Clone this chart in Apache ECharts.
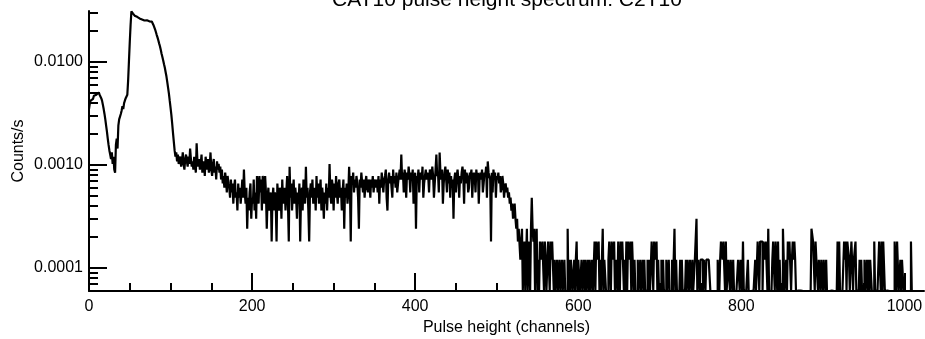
<!DOCTYPE html>
<html><head><meta charset="utf-8">
<script src="https://cdn.jsdelivr.net/npm/echarts@6/dist/echarts.min.js"></script>
<style>html,body{margin:0;padding:0;background:#fff}#c{width:925px;height:339px}</style>
</head><body><div id="c"></div>
<script>
const TITLE = 'CAT10 pulse height spectrum: C2T10';
const X_NAME = 'Pulse height (channels)';
const Y_NAME = 'Counts/s';
const EXPOSURE_S = 16700; // seconds; counts per channel / exposure = counts/s
// counts per channel, channels 0..1023 (32 per row)
const COUNTS = [
58,66,70,72,73,76,78,79,80,82,83,84,82,80,78,74,70,64,58,52,46,40,35,30,26,23,21,19,22,17,20,15,
14,26,30,24,40,46,44,52,56,62,58,66,70,74,72,80,110,170,260,380,516,505,490,478,468,462,456,450,446,440,436,432,
430,424,428,420,426,418,422,416,420,412,416,408,410,404,396,380,362,345,325,305,288,270,252,236,218,200,186,172,158,146,132,120,
106,93,82,70,60,51,42,34,28,23,20,22,18,21,17,19,20,16,18,22,17,15,19,21,18,16,20,17,24,19,16,18,
15,20,17,14,27,18,16,19,15,17,21,14,16,18,13,20,17,15,19,14,16,22,15,13,17,19,14,16,12,18,15,17,
14,16,12,15,11,13,10,14,12,9,13,11,10,8,12,9,11,7,10,12,8,9,6,11,8,10,7,9,12,8,15,9,
7,10,4,8,6,9,11,5,8,7,12,6,9,5,13,10,7,13,9,12,6,13,11,7,13,9,4,8,10,6,7,9,
3,8,10,6,9,7,3,11,8,6,10,9,5,12,7,8,10,6,9,13,7,3,16,8,11,6,9,12,7,10,8,5,
9,7,11,3,8,10,6,12,9,7,16,8,10,6,3,9,11,8,12,7,9,10,6,13,8,11,7,9,12,6,10,8,
5,9,7,11,6,10,8,17,9,7,12,10,6,11,8,13,9,7,11,12,8,10,6,9,12,4,10,8,11,7,9,16,
10,3,13,11,14,9,12,10,13,11,8,4,12,10,14,11,9,12,8,11,13,10,9,12,11,8,12,10,13,9,11,12,
10,12,9,13,7,12,10,14,11,9,12,13,15,8,6,12,14,11,13,10,8,15,11,13,10,14,9,11,13,15,12,21,
12,14,9,15,13,8,14,12,16,13,9,14,12,15,7,11,14,4,13,12,15,9,14,13,12,16,8,11,13,15,12,14,
13,9,15,14,12,16,13,8,11,15,21,13,14,9,22,14,12,15,7,11,14,16,12,9,15,11,14,8,13,10,12,5,
12,14,9,13,15,12,8,13,11,14,16,13,7,15,11,14,13,9,10,14,13,15,8,12,14,13,9,15,12,14,7,12,
14,12,15,9,11,14,13,16,8,18,14,13,12,3,14,9,15,12,14,8,13,12,14,11,13,9,10,13,11,8,10,11,
9,10,8,9,7,8,6,7,5,6,7,5,4,5,3,4,4,2,3,4,1,2,3,0,2,4,1,3,2,0,4,8,
4,3,4,0,3,4,1,2,0,3,3,2,3,3,0,3,2,0,1,3,3,0,3,2,3,3,0,2,1,0,2,0,
0,2,0,1,2,0,0,2,0,1,0,4,0,2,0,2,2,0,1,2,0,2,3,0,2,2,0,1,2,0,0,2,
0,2,0,1,2,0,2,0,0,2,1,0,3,0,3,3,2,3,0,2,0,1,4,0,2,2,0,1,0,2,3,3,
0,3,3,2,3,0,1,2,0,3,3,0,3,2,3,3,0,2,0,3,0,3,3,2,3,0,3,3,0,2,0,1,
0,2,0,0,2,1,0,2,0,2,0,0,1,2,0,2,0,0,3,3,0,3,3,2,3,0,2,0,1,0,2,0,
2,0,0,1,2,0,0,2,0,1,0,2,0,0,4,0,2,0,1,0,0,2,0,2,0,0,1,0,2,0,2,2,
0,2,2,0,2,0,1,2,2,5,0,2,2,0,2,2,2,0,2,2,0,2,2,2,2,2,0,1,0,0,1,0,
0,1,0,2,2,0,2,3,3,2,3,3,0,3,0,1,2,2,0,2,2,0,2,0,1,0,0,0,2,2,0,2,
2,0,3,0,0,1,0,0,2,0,1,0,0,0,1,0,0,2,0,0,3,3,0,3,3,3,0,3,3,2,3,3,
0,4,0,1,0,0,2,3,3,0,3,3,0,3,0,2,0,1,0,4,4,0,0,2,0,3,2,3,3,0,2,3,
2,3,2,0,0,1,0,0,1,0,0,0,1,0,0,1,0,0,0,1,0,0,4,4,3,3,0,3,2,2,0,2,
2,0,2,2,0,2,2,0,2,0,1,0,0,0,1,0,0,0,1,0,0,0,3,0,3,0,1,0,0,0,3,2,
3,0,3,3,2,0,2,3,3,0,2,2,3,0,0,1,0,2,0,2,0,1,0,2,0,0,2,0,2,0,2,2,
0,1,0,3,0,0,1,0,0,3,3,0,3,0,3,3,0,0,1,0,0,0,0,1,0,0,0,0,3,3,0,3,
3,0,0,2,0,2,2,0,0,0,1,0,0,0,0,0,3,0,0,0,0,0,0,0,0,0,0,0,0,0,0,0
];
const X_MIN = 0, X_MAX = 1024;
const Y_MIN = 5.95e-5, Y_MAX = 0.0311;
const X_MAJOR = [0, 200, 400, 600, 800, 1000];
const X_MINOR = [50,100,150,250,300,350,450,500,550,650,700,750,850,900,950];
const Y_MAJOR = [0.0001, 0.001, 0.01];
const Y_MINOR = [7e-5,8e-5,9e-5,2e-4,3e-4,4e-4,5e-4,6e-4,7e-4,8e-4,9e-4,
                 2e-3,3e-3,4e-3,5e-3,6e-3,7e-3,8e-3,9e-3,0.02,0.03];

const FONT = 'Liberation Sans, Arial, Helvetica, sans-serif';
const data = COUNTS.map((c, ch) => [ch, Math.max(c / EXPOSURE_S, Y_MIN)]);

const chart = echarts.init(document.getElementById('c'), null, {renderer: 'canvas'});
const black = '#000';
chart.setOption({
  animation: false,
  backgroundColor: '#fff',
  textStyle: {fontFamily: FONT, color: black},
  grid: {left: 89, right: 1, top: 11, bottom: 48, containLabel: false, outerBoundsMode: 'none'},
  graphic: [{
    type: 'text', x: 507, y: 0, silent: true,
    style: {text: TITLE, align: 'center', verticalAlign: 'middle', fontSize: 21, fontFamily: FONT, fill: black}
  }, {
    type: 'text', x: 19, y: 151, rotation: Math.PI / 2, silent: true,
    style: {text: Y_NAME, align: 'center', verticalAlign: 'middle', fontSize: 16, fontFamily: FONT, fill: black}
  }],
  xAxis: [{
    type: 'value', min: X_MIN, max: X_MAX, position: 'bottom', offset: 0,
    axisLine: {show: true, onZero: false, lineStyle: {color: black, width: 2}},
    axisTick: {show: true, inside: true, length: 18, customValues: X_MAJOR, lineStyle: {color: black, width: 2}},
    axisLabel: {customValues: X_MAJOR, formatter: v => String(v), fontSize: 16, color: black, fontFamily: FONT, margin: 8},
    splitLine: {show: false},
    name: X_NAME, nameLocation: 'middle', nameGap: 26,
    nameTextStyle: {fontSize: 16, color: black, fontFamily: FONT}
  }, {
    type: 'value', min: X_MIN, max: X_MAX, position: 'bottom', offset: 0,
    axisLine: {show: false},
    axisTick: {show: true, inside: true, length: 8, customValues: X_MINOR, lineStyle: {color: black, width: 2}},
    axisLabel: {show: false}, splitLine: {show: false}
  }],
  yAxis: [{
    type: 'log', min: Y_MIN, max: Y_MAX, position: 'left', offset: 0,
    axisLine: {show: true, onZero: false, lineStyle: {color: black, width: 2}},
    axisTick: {show: true, inside: true, length: 18, customValues: Y_MAJOR, lineStyle: {color: black, width: 2}},
    axisLabel: {customValues: Y_MAJOR, formatter: v => Number(v).toFixed(4), fontSize: 16, color: black, fontFamily: FONT, margin: 6},
    splitLine: {show: false}, minorTick: {show: false}, minorSplitLine: {show: false}
  }, {
    type: 'log', min: Y_MIN, max: Y_MAX, position: 'left', offset: 0,
    axisLine: {show: false},
    axisTick: {show: true, inside: true, length: 9, customValues: Y_MINOR, lineStyle: {color: black, width: 2}},
    axisLabel: {show: false}, splitLine: {show: false}
  }],
  series: [{
    type: 'line', xAxisIndex: 0, yAxisIndex: 0, step: 'end',
    data: data, symbol: 'none', showSymbol: false, silent: true, clip: true,
    lineStyle: {color: black, width: 2.2}
  }]
});
</script></body></html>
